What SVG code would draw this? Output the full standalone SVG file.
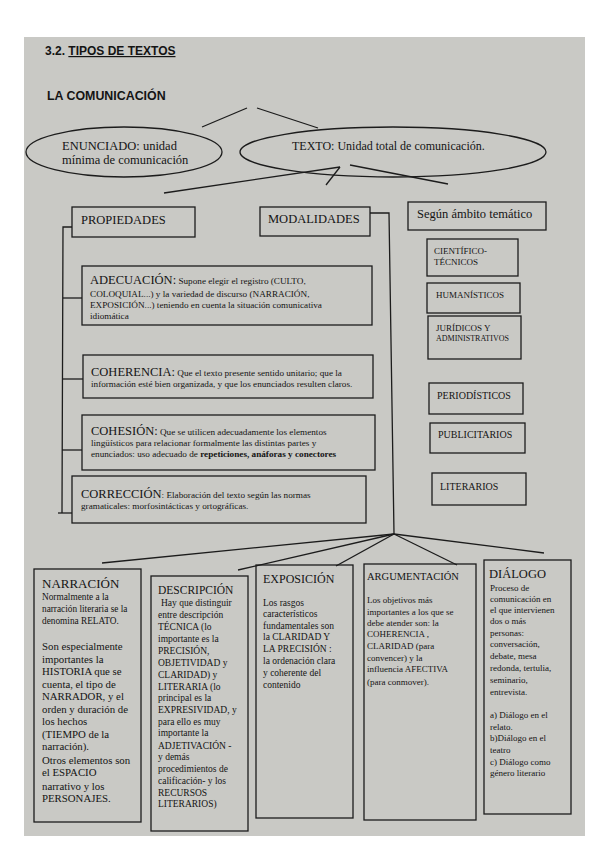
<svg xmlns="http://www.w3.org/2000/svg" width="599" height="848" viewBox="0 0 599 848">
<style>
.bx{fill:none;stroke:#1c1c1c;stroke-width:1.3}
.ln{fill:none;stroke:#1c1c1c;stroke-width:1.3}
.t{font-family:"Liberation Serif","Times New Roman",serif;fill:#141414}
.a{font-family:"Liberation Sans",Arial,sans-serif;font-weight:bold;fill:#141414}
.big{font-size:12.5px}
.s{font-size:9.2px}
.m{font-size:9px}
.d{font-size:9.5px}
</style>
<rect x="0" y="0" width="599" height="848" fill="#ffffff"/>
<rect x="24" y="37" width="561" height="799" fill="#c9c9c5"/>

<g id="titulo">
<text class="a" x="45" y="55" font-size="12">3.2. <tspan text-decoration="underline">TIPOS DE TEXTOS</tspan></text>
</g>
<g id="la-comunicacion">
<text class="a" x="47" y="100" font-size="12.4">LA COMUNICACIÓN</text>
</g>

<g id="connectors">
<line class="ln" x1="202" y1="127" x2="247" y2="108"/>
<line class="ln" x1="257" y1="108" x2="318" y2="128"/>
<line class="ln" x1="164" y1="193" x2="340" y2="167"/>
<line class="ln" x1="326" y1="185" x2="340" y2="167"/>
<line class="ln" x1="350" y1="165" x2="448" y2="184"/>
<polyline class="ln" points="72,227 63,227 62,513"/>
<line class="ln" x1="63" y1="298" x2="82" y2="298"/>
<line class="ln" x1="63" y1="379" x2="83" y2="379"/>
<line class="ln" x1="62" y1="450" x2="82" y2="450"/>
<line class="ln" x1="58" y1="513" x2="72" y2="513"/>
<polyline class="ln" points="370,213 389,213 394,534"/>
<line class="ln" x1="394" y1="534" x2="102" y2="563"/>
<line class="ln" x1="394" y1="534" x2="238" y2="570"/>
<line class="ln" x1="394" y1="534" x2="336" y2="566"/>
<line class="ln" x1="394" y1="534" x2="457" y2="565"/>
<line class="ln" x1="394" y1="534" x2="544" y2="553"/>
</g>

<g id="enunciado">
<ellipse class="bx" cx="124" cy="152" rx="98" ry="25"/>
<text class="t big" x="62" y="150">ENUNCIADO: unidad</text>
<text class="t big" x="62" y="164">mínima de comunicación</text>
</g>
<g id="texto">
<ellipse class="bx" cx="393" cy="152" rx="153" ry="25"/>
<text class="t" font-size="12" x="292" y="150">TEXTO: Unidad total de comunicación.</text>
</g>

<g id="propiedades">
<rect class="bx" x="72" y="207" width="123" height="30"/>
<text class="t big" x="81" y="223.5">PROPIEDADES</text>
</g>
<g id="modalidades">
<rect class="bx" x="260" y="207" width="110" height="29"/>
<text class="t big" x="268" y="223">MODALIDADES</text>
</g>
<g id="segun-ambito">
<rect class="bx" x="408" y="202" width="138" height="28"/>
<text class="t big" x="417" y="218">Según ámbito temático</text>
</g>

<g id="cientifico">
<rect class="bx" x="427" y="239" width="91" height="37"/>
<text class="t m" x="434" y="254">CIENTÍFICO-</text>
<text class="t m" x="434" y="265">TÉCNICOS</text>
</g>
<g id="humanisticos">
<rect class="bx" x="427" y="283" width="93" height="30"/>
<text class="t m" x="436" y="298">HUMANÍSTICOS</text>
</g>
<g id="juridicos">
<rect class="bx" x="428" y="316" width="93" height="43"/>
<text class="t m" x="436" y="331">JURÍDICOS  Y</text>
<text class="t" font-size="8" x="436" y="341">ADMINISTRATIVOS</text>
</g>
<g id="periodisticos">
<rect class="bx" x="429" y="383" width="94" height="31"/>
<text class="t" font-size="10" x="437" y="399">PERIODÍSTICOS</text>
</g>
<g id="publicitarios">
<rect class="bx" x="430" y="423" width="95" height="30"/>
<text class="t" font-size="10" x="438" y="438">PUBLICITARIOS</text>
</g>
<g id="literarios">
<rect class="bx" x="432" y="473" width="94" height="32"/>
<text class="t" font-size="10" x="440" y="490">LITERARIOS</text>
</g>

<g id="adecuacion">
<rect class="bx" x="82" y="266" width="290" height="59"/>
<text class="t" x="90" y="284"><tspan class="big">ADECUACIÓN:</tspan><tspan class="s"> Supone elegir el registro (CULTO,</tspan></text>
<text class="t s" x="90" y="297">COLOQUIAL...) y la variedad de discurso (NARRACIÓN,</text>
<text class="t s" x="90" y="308">EXPOSICIÓN...) teniendo en cuenta la situación comunicativa</text>
<text class="t s" x="90" y="319">idiomática</text>
</g>
<g id="coherencia">
<rect class="bx" x="83" y="355" width="290" height="43"/>
<text class="t" x="91" y="376"><tspan class="big">COHERENCIA:</tspan><tspan class="s"> Que el texto presente sentido unitario; que la</tspan></text>
<text class="t s" x="91" y="387">información esté bien organizada, y que los enunciados resulten claros.</text>
</g>
<g id="cohesion">
<rect class="bx" x="82" y="415" width="293" height="55"/>
<text class="t" x="91" y="435"><tspan class="big">COHESIÓN:</tspan><tspan class="s"> Que se utilicen adecuadamente los elementos</tspan></text>
<text class="t s" x="91" y="446">lingüísticos para relacionar formalmente las distintas partes y</text>
<text class="t s" x="91" y="457">enunciados: uso adecuado de <tspan font-weight="bold">repeticiones, anáforas y conectores</tspan></text>
</g>
<g id="correccion">
<rect class="bx" x="72" y="476" width="294" height="47"/>
<text class="t" x="81" y="498"><tspan class="big">CORRECCIÓN</tspan><tspan class="s">: Elaboración del texto según las normas</tspan></text>
<text class="t s" x="81" y="509">gramaticales: morfosintácticas y ortográficas.</text>
</g>

<g id="narracion">
<rect class="bx" x="34" y="569" width="107" height="253"/>
<text class="t" font-size="13" x="42" y="588">NARRACIÓN</text>
<g class="t" font-size="9.3">
<text x="42" y="600">Normalmente a la</text>
<text x="42" y="612">narración literaria se la</text>
<text x="42" y="624">denomina RELATO.</text>
</g>
<g class="t" font-size="10.8">
<text x="42" y="650">Son especialmente</text>
<text x="42" y="663">importantes la</text>
<text x="42" y="675">HISTORIA que se</text>
<text x="42" y="688">cuenta, el tipo de</text>
<text x="42" y="700">NARRADOR,  y el</text>
<text x="42" y="713">orden y duración de</text>
<text x="42" y="725">los hechos</text>
<text x="42" y="738">(TIEMPO de la</text>
<text x="42" y="750">narración).</text>
<text x="42" y="764">Otros elementos son</text>
<text x="42" y="776">el ESPACIO</text>
<text x="42" y="790">narrativo y los</text>
<text x="42" y="802">PERSONAJES.</text>
</g>
</g>

<g id="descripcion">
<rect class="bx" x="151" y="576" width="97" height="255"/>
<text class="t" font-size="11.5" x="158" y="594">DESCRIPCIÓN</text>
<g class="t d">
<text x="161" y="606">Hay que distinguir</text>
<text x="158" y="618">entre descripción</text>
<text x="158" y="630">TÉCNICA  (lo</text>
<text x="158" y="642">importante es  la</text>
<text x="158" y="654">PRECISIÓN,</text>
<text x="158" y="666">OBJETIVIDAD y</text>
<text x="158" y="678">CLARIDAD) y</text>
<text x="158" y="690">LITERARIA (lo</text>
<text x="158" y="701">principal es la</text>
<text x="158" y="713">EXPRESIVIDAD, y</text>
<text x="158" y="725">para ello es muy</text>
<text x="158" y="736">importante la</text>
<text x="158" y="749">ADJETIVACIÓN -</text>
<text x="158" y="760">y demás</text>
<text x="158" y="772">procedimientos de</text>
<text x="158" y="784">calificación-  y los</text>
<text x="158" y="796">RECURSOS</text>
<text x="158" y="807">LITERARIOS)</text>
</g>
</g>

<g id="exposicion">
<rect class="bx" x="256" y="565" width="97" height="253"/>
<text class="t" font-size="12" x="263" y="583">EXPOSICIÓN</text>
<g class="t d">
<text x="263" y="606">Los rasgos</text>
<text x="263" y="617">característicos</text>
<text x="263" y="629">fundamentales son</text>
<text x="263" y="640">la CLARIDAD Y</text>
<text x="263" y="652">LA PRECISIÓN :</text>
<text x="263" y="664">la ordenación clara</text>
<text x="263" y="676">y coherente del</text>
<text x="263" y="688">contenido</text>
</g>
</g>

<g id="argumentacion">
<rect class="bx" x="364" y="564" width="112" height="256"/>
<text class="t" font-size="10.5" x="367" y="580">ARGUMENTACIÓN</text>
<g class="t m">
<text x="367" y="603">Los objetivos más</text>
<text x="367" y="615">importantes a los que se</text>
<text x="367" y="626">debe atender son: la</text>
<text x="367" y="637">COHERENCIA ,</text>
<text x="367" y="649">CLARIDAD (para</text>
<text x="367" y="661">convencer) y la</text>
<text x="367" y="672">influencia AFECTIVA</text>
<text x="367" y="685">(para conmover).</text>
</g>
</g>

<g id="dialogo">
<rect class="bx" x="484" y="560" width="87" height="254"/>
<text class="t big" x="489" y="578">DIÁLOGO</text>
<g class="t m">
<text x="490" y="591">Proceso de</text>
<text x="490" y="602">comunicación en</text>
<text x="490" y="613">el que intervienen</text>
<text x="490" y="624">dos o más</text>
<text x="490" y="636">personas:</text>
<text x="490" y="647">conversación,</text>
<text x="490" y="659">debate, mesa</text>
<text x="490" y="671">redonda, tertulia,</text>
<text x="490" y="683">seminario,</text>
<text x="490" y="695">entrevista.</text>
<text x="490" y="718">a) Diálogo en el</text>
<text x="490" y="730">relato.</text>
<text x="490" y="741">b)Diálogo en el</text>
<text x="490" y="753">teatro</text>
<text x="490" y="765">c) Diálogo como</text>
<text x="490" y="776">género literario</text>
</g>
</g>
</svg>
